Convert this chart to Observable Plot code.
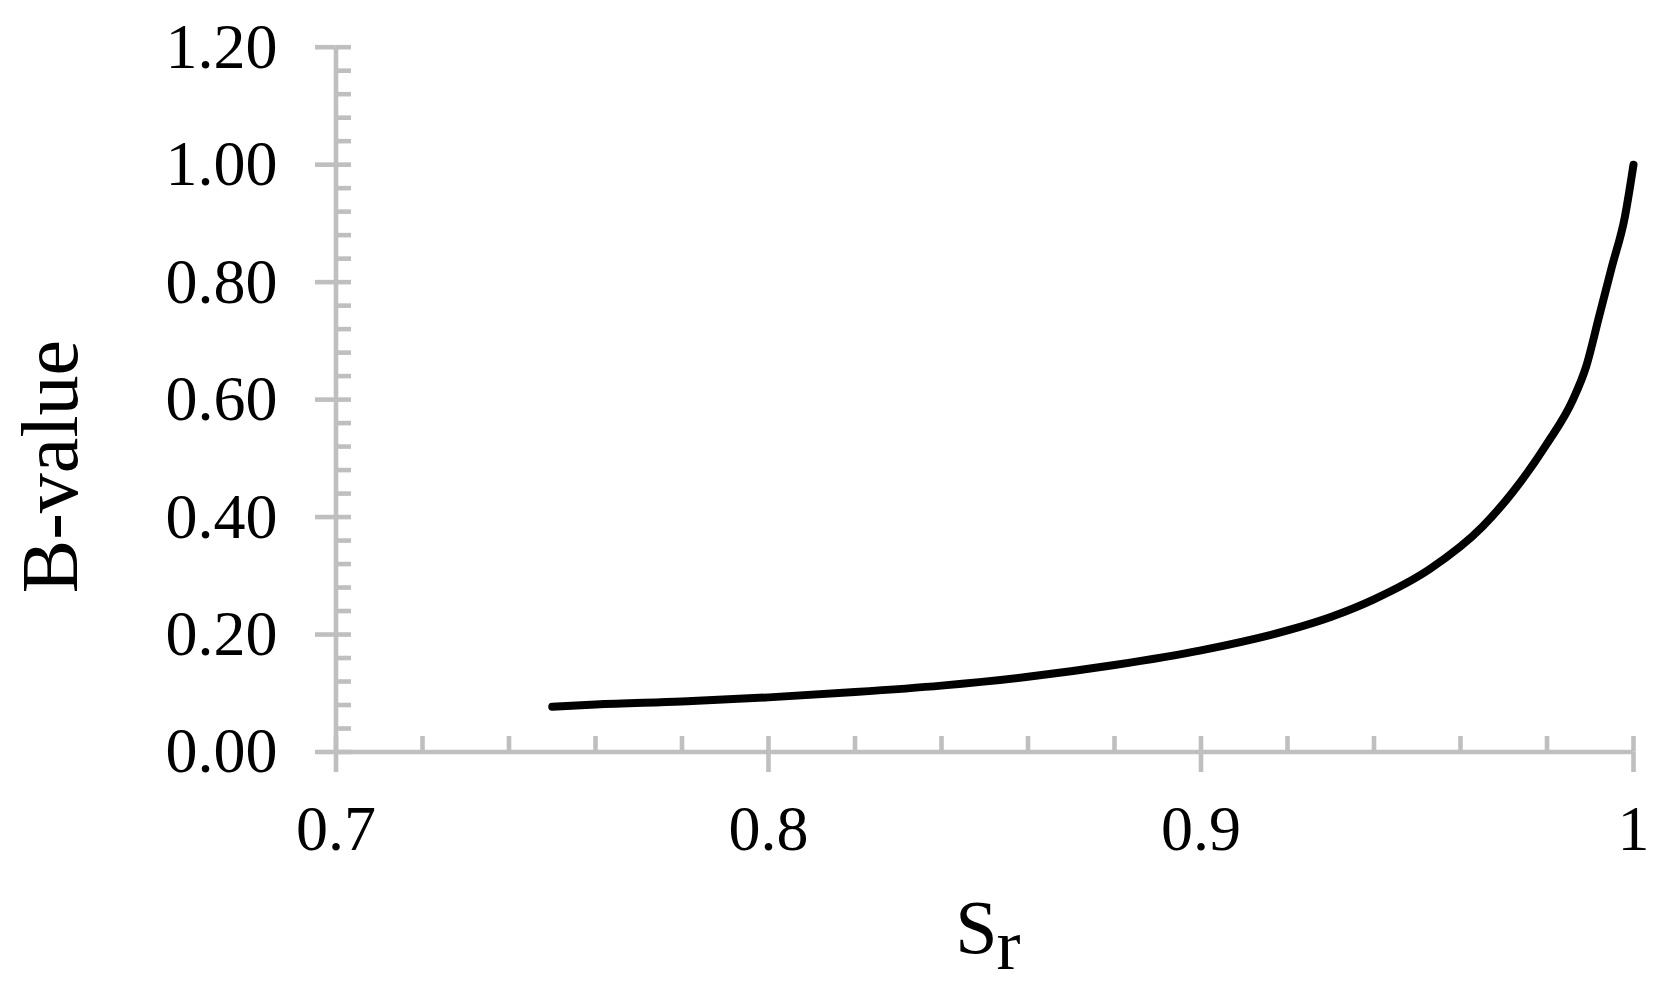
<!DOCTYPE html>
<html>
<head>
<meta charset="utf-8">
<script src="https://cdn.jsdelivr.net/npm/d3@7"></script>
<script src="https://cdn.jsdelivr.net/npm/@observablehq/plot@0.6"></script>
<style>
  html, body { margin: 0; padding: 0; background: #fff; overflow: hidden; }
  svg { display: block; }
</style>
</head>
<body>
<div id="chart"></div>
<script>
// ---- data ----
const sr     = [0.75, 0.76, 0.78, 0.80, 0.82, 0.84, 0.86, 0.88, 0.90, 0.92, 0.93, 0.94, 0.953, 0.965, 0.972, 0.98, 0.986, 0.989, 0.992, 0.995, 0.998, 1.00];
const bValue = [0.077, 0.081, 0.086, 0.093, 0.102, 0.113, 0.128, 0.148, 0.173, 0.207, 0.230, 0.260, 0.312, 0.383, 0.442, 0.525, 0.600, 0.655, 0.740, 0.826, 0.911, 1.00];

const yTicks      = [0, 0.2, 0.4, 0.6, 0.8, 1.0, 1.2];
const yTickLabels = ["0.00", "0.20", "0.40", "0.60", "0.80", "1.00", "1.20"];
const yMinorTicks = [0, 0.04, 0.08, 0.12, 0.16, 0.2, 0.24, 0.28, 0.32, 0.36, 0.4, 0.44, 0.48, 0.52, 0.56, 0.6, 0.64, 0.68, 0.72, 0.76, 0.8, 0.84, 0.88, 0.92, 0.96, 1.0, 1.04, 1.08, 1.12, 1.16, 1.2];

const xTicks      = [0.7, 0.8, 0.9, 1.0];
const xTickLabels = ["0.7", "0.8", "0.9", "1"];
const xMinorTicks = [0.7, 0.72, 0.74, 0.76, 0.78, 0.8, 0.82, 0.84, 0.86, 0.88, 0.9, 0.92, 0.94, 0.96, 0.98, 1.0];

const xDomain = [0.7, 1.0];
const yDomain = [0, 1.2];
const yLabel  = "B-value";
const xLabelMain = "S";
const xLabelSub  = "r";

// ---- build ----
const data = sr.map((s, i) => ({sr: s, b: bValue[i]}));
const gray = "#bfbfbf";
const axisW = 4.6;
const font = "'Liberation Serif', 'Times New Roman', 'DejaVu Serif', serif";

const W = 1680, H = 999;
const mL = 335.5, mR = 47, mT = 46.7, mB = 247.5;

const chart = Plot.plot({
  width: W,
  height: H,
  marginLeft: mL,
  marginRight: mR,
  marginTop: mT,
  marginBottom: mB,
  x: {domain: xDomain},
  y: {domain: yDomain},
  style: {fontFamily: font, fontSize: "64px", color: "#000", background: "#fff", overflow: "visible"},
  marks: [
    // axis lines
    Plot.ruleY([yDomain[0]], {x1: xDomain[0], x2: xDomain[1], stroke: gray, strokeWidth: axisW}),
    Plot.ruleX([xDomain[0]], {y1: yDomain[0], y2: yDomain[1], stroke: gray, strokeWidth: axisW}),
    // minor ticks (inside)
    Plot.axisY({ticks: yMinorTicks, tickSize: 15.5, dx: 15.5, fill: "none", stroke: gray, strokeWidth: axisW, label: null}),
    Plot.axisX({ticks: xMinorTicks, tickSize: 15.5, dy: -15.5, fill: "none", stroke: gray, strokeWidth: axisW, label: null}),
    // major ticks (outside) with labels
    Plot.axisY({
      ticks: yTicks, tickSize: 20.5, tickPadding: 38,
      tickFormat: d => yTickLabels[yTicks.indexOf(d)],
      stroke: gray, strokeWidth: axisW, fill: "#000", fontSize: 64, label: null
    }),
    Plot.axisX({
      ticks: xTicks, tickSize: 20.5, tickPadding: 32,
      tickFormat: d => xTickLabels[xTicks.indexOf(d)],
      stroke: gray, strokeWidth: axisW, fill: "#000", fontSize: 64, label: null
    }),
    // the curve
    Plot.line(data, {x: "sr", y: "b", curve: "monotone-x", stroke: "#000", strokeWidth: 8, strokeLinecap: "round", strokeLinejoin: "round"}),
    // axis titles
    Plot.text([yLabel], {
      text: d => d, frameAnchor: "left", rotate: -90, textAnchor: "middle", lineAnchor: "bottom",
      dx: 76 - mL, dy: 466 - (mT + (H - mB)) / 2, fontSize: 80, fill: "#000"
    }),
    Plot.text([xLabelMain], {
      text: d => d, frameAnchor: "bottom", textAnchor: "end", lineAnchor: "bottom",
      dx: 997 - (mL + (W - mR)) / 2, dy: 952 - (H - mB), fontSize: 76, fill: "#000"
    }),
    Plot.text([xLabelSub], {
      text: d => d, frameAnchor: "bottom", textAnchor: "start", lineAnchor: "bottom",
      dx: 996 - (mL + (W - mR)) / 2, dy: 968 - (H - mB), fontSize: 72, fill: "#000"
    })
  ]
});

document.getElementById("chart").appendChild(chart);
</script>
</body>
</html>
